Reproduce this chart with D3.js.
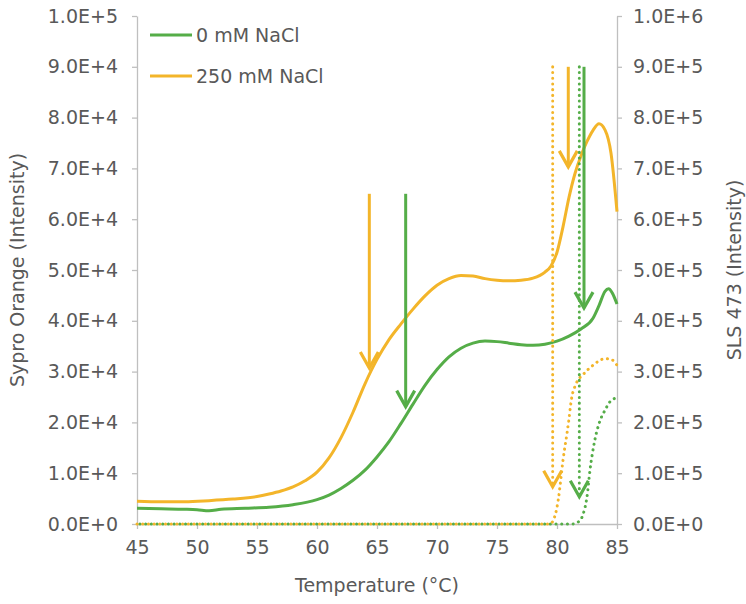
<!DOCTYPE html>
<meta charset="utf-8">
<style>
body { margin: 0; background: #fff; }
text { font-family: "DejaVu Sans", sans-serif; fill: #595959; }
.axis path, .axis line { stroke: #bfbfbf; stroke-width: 1.3; }
.axis text { font-size: 19px; fill: #595959; }
</style>
<body>
<script src="https://d3js.org/d3.v7.min.js"></script>
<script>

// Sypro Orange (left axis)
var syproTemp0 = [45,47,49,50,51,52,54,56,58,60,61,62,63,64,65,66,67,68,69,70,71,72,73,74,75,76,77,78,79,80,81,82,83,83.5,84,84.3,84.6,85];
var syproVal0  = [3100,3000,2900,2800,2600,2900,3100,3300,3800,4800,5700,7000,8600,10600,13200,16200,19800,23600,27300,30400,32900,34600,35600,36000,35900,35600,35300,35200,35400,36000,37000,38400,40500,43000,45800,46300,45500,43300];
var syproTemp250 = [45,47,49,51,53,55,56,57,58,59,60,61,62,63,64,65,66,67,68,69,70,71,72,73,74,75,76,77,78,79,79.5,80,80.5,81,81.5,82,82.5,83,83.5,84,84.5,85];
var syproVal250  = [4500,4400,4400,4600,4900,5400,5900,6500,7300,8500,10200,13000,17000,22000,27600,32400,36300,39400,42300,44900,47000,48300,48900,48800,48300,48000,47900,48000,48400,49600,50800,53500,58500,64300,69000,72500,75300,77500,78800,77600,73000,61500];

// SLS 473 (right axis)
var slsTemp0 = [45,50,55,60,65,70,75,80,81.3,81.8,82.2,82.5,82.75,83.15,83.55,84.0,84.4,84.8];
var slsVal0  = [0,0,0,0,0,0,0,0,0,4500,21000,53600,106000,165000,201000,224000,240300,247000];
var slsTemp250 = [45,50,55,60,65,70,75,79.4,79.85,80.1,80.5,80.95,81.2,81.6,82.2,83.0,84.0,84.55,85];
var slsVal250  = [0,0,0,0,0,0,0,0,17700,47000,125700,197800,245000,276400,294700,312400,325500,323600,312400];

// arrows: temperature, start value, end value, which axis
var arrowTemp  = [64.36, 67.39, 80.94, 82.25, 79.64, 81.86];
var arrowFrom  = [65000, 65000, 90000, 90000, 900000, 900000];
var arrowTo    = [30700, 23100, 70300, 42500, 73400, 53700];
var arrowAxis  = ["left", "left", "left", "left", "right", "right"];
var arrowSeries = [1, 0, 1, 0, 1, 0];

var seriesNames = ["0 mM NaCl", "250 mM NaCl"];
var colors = ["#55ad48", "#f3b52a"];

var xTicks = [45,50,55,60,65,70,75,80,85];
var leftTicks = d3.range(0, 100001, 10000);
var rightTicks = d3.range(0, 1000001, 100000);

var W = 746, H = 604;
var margin = {top: 16, right: 129, bottom: 80, left: 137};
var width = W - margin.left - margin.right,
    height = H - margin.top - margin.bottom;

var svg = d3.select("body").append("svg")
    .attr("width", W)
    .attr("height", H)
  .append("g")
    .attr("transform", "translate(" + margin.left + "," + margin.top + ")");

var x = d3.scaleLinear().domain([45, 85]).range([0, width]);
var yL = d3.scaleLinear().domain([0, 100000]).range([height, 0]);
var yR = d3.scaleLinear().domain([0, 1000000]).range([height, 0]);

function expFmt(d) {
  if (d === 0) return "0.0E+0";
  var e = Math.floor(Math.log10(d) + 1e-9);
  return (d / Math.pow(10, e)).toFixed(1) + "E+" + e;
}

// axes
svg.append("g").attr("class", "axis")
  .attr("transform", "translate(0," + height + ")")
  .call(d3.axisBottom(x).tickValues(xTicks).tickSize(5).tickPadding(12).tickSizeOuter(0));

svg.append("g").attr("class", "axis")
  .call(d3.axisLeft(yL).tickValues(leftTicks).tickFormat(expFmt).tickSize(5).tickPadding(14).tickSizeOuter(0));

svg.append("g").attr("class", "axis")
  .attr("transform", "translate(" + width + ",0)")
  .call(d3.axisRight(yR).tickValues(rightTicks).tickFormat(expFmt).tickSize(5).tickPadding(11).tickSizeOuter(0));

// axis titles
svg.append("text")
  .attr("x", width / 2).attr("y", height + 68)
  .attr("text-anchor", "middle").style("font-size", "19px")
  .text("Temperature (\u00B0C)");

svg.append("text")
  .attr("transform", "translate(" + (-113) + "," + (height / 2) + ") rotate(-90)")
  .attr("text-anchor", "middle").style("font-size", "19px")
  .text("Sypro Orange (Intensity)");

svg.append("text")
  .attr("transform", "translate(" + (width + 124) + "," + (height / 2) + ") rotate(-90)")
  .attr("text-anchor", "middle").style("font-size", "19px")
  .text("SLS 473 (Intensity)");

var lineR = d3.line().x(function(d) { return x(d[0]); }).y(function(d) { return yR(d[1]); })
  .curve(d3.curveMonotoneX);
var lineL = d3.line().x(function(d) { return x(d[0]); }).y(function(d) { return yL(d[1]); })
  .curve(d3.curveMonotoneX);

// SLS dotted lines
var sls = [d3.zip(slsTemp0, slsVal0), d3.zip(slsTemp250, slsVal250)];
sls.forEach(function(s, i) {
  svg.append("path")
    .attr("d", lineR(s))
    .attr("fill", "none")
    .attr("stroke", colors[i])
    .attr("stroke-width", 3)
    .attr("stroke-linecap", "round")
    .attr("stroke-dasharray", "0.1 5.6")
    .attr("stroke-dashoffset", i === 0 ? 2.8 : 0);
});

// Sypro solid lines
var sypro = [d3.zip(syproTemp0, syproVal0), d3.zip(syproTemp250, syproVal250)];
sypro.forEach(function(s, i) {
  svg.append("path")
    .attr("d", lineL(s))
    .attr("fill", "none")
    .attr("stroke", colors[i])
    .attr("stroke-width", 3);
});

// arrows
arrowTemp.forEach(function(t, i) {
  var yS = arrowAxis[i] === "left" ? yL : yR;
  var ax = x(t), y0 = yS(arrowFrom[i]), y1 = yS(arrowTo[i]);
  var c = colors[arrowSeries[i]];
  var shaft = svg.append("line")
    .attr("x1", ax).attr("x2", ax)
    .attr("y1", y0).attr("y2", y1)
    .attr("stroke", c).attr("stroke-width", 3);
  if (arrowAxis[i] === "right") {
    shaft.attr("stroke-dasharray", "0.1 5.6").attr("stroke-linecap", "round");
  }
  svg.append("path")
    .attr("d", "M" + (ax - 9) + "," + (y1 - 16) + "L" + ax + "," + y1 + "L" + (ax + 9) + "," + (y1 - 16))
    .attr("fill", "none")
    .attr("stroke", c)
    .attr("stroke-width", 3.2);
});

// legend
var legend = svg.selectAll(".legend")
  .data(seriesNames)
  .enter().append("g")
  .attr("transform", function(d, i) { return "translate(13," + (19 + i * 41) + ")"; });

legend.append("line")
  .attr("x1", 0).attr("x2", 42)
  .attr("stroke", function(d, i) { return colors[i]; })
  .attr("stroke-width", 3);

legend.append("text")
  .attr("x", 46).attr("y", 7)
  .style("font-size", "19px")
  .text(function(d) { return d; });

</script>
</body>
